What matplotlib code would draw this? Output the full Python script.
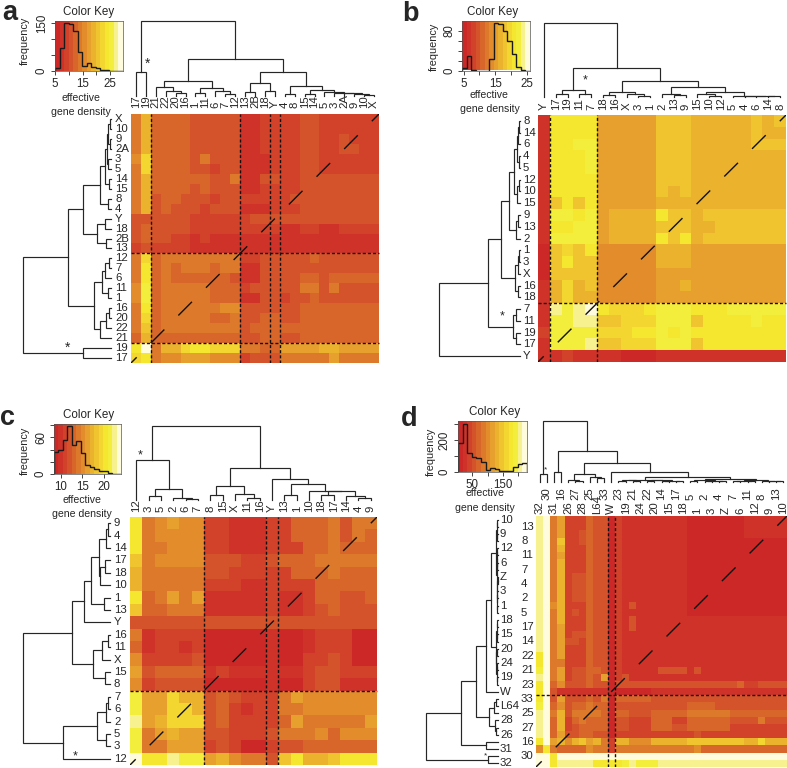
import numpy as np
import matplotlib
matplotlib.use("Agg")
import matplotlib.pyplot as plt
from matplotlib.colors import ListedColormap

plt.rcParams['font.family'] = ['Liberation Sans', 'DejaVu Sans']
plt.rcParams['lines.scale_dashes'] = False
W, H = 787, 768
INK = '#262626'

KEY_COLORS = ['#CC2827', '#CF3228', '#D2412A', '#D5532A', '#D8662A', '#DD792B', '#E28C2C', '#E79F2D',
              '#EBB22E', '#EFC42F', '#F3D62F', '#F5E62F', '#F3EE3C', '#F8F190', '#FFFBDD']
CMAP = ListedColormap(KEY_COLORS)

# ---------- panel a ----------
a_cols = ['17','19','21','22','20','16','1','11','6','7','12','13','2B','18','Y','4','8','15','14','5','3','2A','9','10','X']
a_rows = ['X','10','9','2A','3','5','14','15','8','4','Y','18','2B','13','12','7','6','11','1','16','20','22','21','19','17']
a_matrix = [
 "5844443333311222233222222","5844443333311222233222222","5844443333311222233223222","5844443333311222233223322",
 "6a44443533311122233222222","5a44443323311122233222222","5844444433511332233333333","5844443433311222233333333",
 "5834433323322222333333333","5834333233311122233333333","3333332222223333333333333","3433332222222221122112222",
 "3433221211111111111111111","2322221111111111111111111","5a45555555522333334333333","5b45455545511333333333333",
 "5b45444444311333344344444","6c45555544423333355353333","6c45555544411332334333333","5b45555556633333344444444",
 "5a45555544533443344444444","5945555555534444444444444","4844444444433443344444444","be588abbaaa55447777887777",
 "ab56677766623335555575555"]
a_hist = [8,72,152,147,125,60,17,24,12,10,3,4,0,0,0]
a_col_tree = (75,(24,'17','19'),(37,(15,(9,'21',(5,'22',(3,'20','16'))),(8,(3,'1','11'),(5,'6',(2,'7','12')))),
              (24,(13,(4,'13','2B'),(5,'18','Y')),(10,(2,'4','8'),(6,(2,'15','14'),(4.5,'5',(3.5,'3',(3,'2A',(2,'9',(1.5,'10','X'))))))))))
a_row_tree = (87.7,(42.7,(27.7,(11,(5.7,(3.7,(2.7,(0.7,'X','10'),(1.5,'9','2A')),(2.7,'3','5')),(1.7,'14','15')),(3.3,'8','4')),
              (14.3,(5.7,'Y','18'),(5,'2B','13'))),(16.7,(8.7,(5.7,(1.7,'12','7'),'6'),(3.3,'11','1')),(11,(5,(1.7,'16','20'),'22'),'21'))),(27.7,'19','17'))

# ---------- panel b ----------
b_cols = ['Y','17','19','11','7','18','16','X','3','1','2','13','9','15','10','12','5','4','6','14','8']
b_rows = ['8','14','6','4','5','12','10','15','9','13','2','1','3','X','16','18','7','11','19','17','Y']
b_matrix = [
 "1bbbb7777799988888989","1bbbb7777799988888988","1bbcc7777799988888999","1bbbc7777799988888888",
 "1bbbc7777799988888888","1bbbb7777799988888888","1bbbb7777798988888888","19b9b7777788888888888",
 "1ccbc78888b9989999999","1bbcc7888899988999999","1cccc78888b9b89999999","09a9b6666688877777777",
 "09b996666688877777777","099996666677777777777","18a896666677877777777","18a886666677777777777",
 "1dcdebaaabcccbbbccccc","1ccdd99aaaccc9bbbbcbb","2ccccaaabbcbcbbbbbbbb","1cccd99aaaccc9bbbbbbb",
 "112111100011111111111"]
b_hist = [5,30,1,0,0,0,24,95,93,80,60,34,8,2,0]
b_col_tree = (74,'Y',(29,(6.3,(2.3,'17','19'),(3,'11','7')),(16,(5,(1.3,'18','16'),(2.3,'X',(0.7,'3','1'))),
              (9.3,(3,'2',(1.3,'13','9')),(5,(2.3,'15',(1,'10','12')),(0.9,'5',(0.7,'4',(0.5,'6',(0.3,'14','8')))))))))
b_row_tree = (81,(31.7,(19,(10.7,(6,(2.7,(1.7,(0.7,'8','14'),'6'),(0.7,'4','5')),(3.3,(1,'12','10'),'15')),(4.3,(1.7,'9','13'),'2')),
              (5,(2.3,(0.7,'1','3'),'X'),(2.3,'16','18'))),(7.3,(4.3,'7','11'),(4.3,'19','17'))),'Y')

# ---------- panel c ----------
c_cols = ['12','3','5','2','6','7','8','15','X','11','16','Y','13','1','10','18','17','14','4','9']
c_rows = ['9','4','14','17','18','10','1','13','Y','16','11','X','15','8','7','6','2','5','3','12']
c_matrix = [
 "b5676622111224445355","b5666622111224445354","b5566622111222445444","95666633322344455555",
 "85555533222224445444","85555522211222244444","b4575711111211244334","94455511111211234333",
 "33333333333333333333","51222200000100122200","41221200000100122200","62222300000100223200",
 "73444412111111233222","62333300000100233111","c77a8834322257666666","c77aa834212255666666",
 "d78aaa34222247555557","c5787733222355564666","c5577723200233444444","ebbdcc7865539b889bbb"]
c_hist = [36,39,55,78,47,54,34,14,12,9,5,5,2,0.5,0.5]
c_col_tree = (74,(40,'12',(11,(4,'3','5'),(2.5,'2',(1.5,'6','7')))),(32,(14,(5,'8','15'),(6,'X',(2,'11','16'))),
              (21,'Y',(16,(5,'13','1'),(9.3,'10',(8.7,(5,'18','17'),(3.7,'14',(1.7,'4','9'))))))))
c_row_tree = (87,(38,(26,(19,(11,(4,(2,'9','4'),'14'),(10,(5,'17','18'),'10')),(6,'1','13')),'Y'),
              (17,(8,(2,'16','11'),'X'),(5,'15','8'))),(47,(13,(4,(2,'7','6'),'2'),(4,'5','3')),'12'))

# ---------- panel d ----------
d_cols = ['32','30','31','16','26','27','28','25','L64','33','W','23','19','21','24','22','20','14','15','17','18',
          '5','1','2','3','4','Z','7','6','11','12','8','9','13','10']
d_rows = ['10','13','9','8','12','11','6','7','Z','4','3','2','1','5','18','17','15','14','20','22','24','21','19','23',
          'W','33','L64','25','28','27','26','16','31','30','32']
d_matrix = [
 "de572224330"+"211111111100000000111111","de572224330"+"211111111100000000111111",
 "de572234330"+"211111111100000000111111","de592234330"+"211111111100000000000000",
 "de582224330"+"211111111100000000000000","de572224330"+"211111111100000000000000",
 "de582224330"+"211111111100000000000000","de582224330"+"211111111100000000000000",
 "de582334330"+"211111111100000000000000","de582334330"+"211111111100000000000000",
 "de582334330"+"211111111100000000000000","de582334330"+"211111111100000000000000",
 "de682224330"+"213111111100000000000000","de582324330"+"211111111100000000000000",
 "de582224330"+"213111111111111111111111","de572224330"+"213111111111111111111111",
 "de572334330"+"211111111111111111111111","de573324330"+"211111111111111111111111",
 "de572224330"+"211111111111111111111111","be572224330"+"211111111111111111111111",
 "be552224330"+"211111111111111111111111","ce572334430"+"211111333313111111111111",
 "de572334370"+"231111111111111111111111","be463334330"+"333333333333333334223333",
 "be311111110"+"000001111111111111111111","be373334350"+"444443333333333333333333",
 "ce463445440"+"333333333344443333333333","de583555540"+"443334444455555544444444",
 "de482454440"+"332224442244444433335333","de482344440"+"332224443344444422222222",
 "de473344330"+"222222222223222222222222","be786897852"+"88666888889999999988a888",
 "6b544446552"+"555555555556444444444444","eeb"+"eeeeeeeeeeeeeeeeeeeeeeeeeeeeeeee",
 "eebdddddbbbbcdcccdddddddddddddddddd"]
d_hist = [185,300,120,95,90,60,10,27,21,4,4,6,30,48,55]
d_left = (1.8,(1.3,(0.8,'23','19'),(0.8,'21','24')),(1.3,(0.8,'22','20'),(1,(0.6,'14','15'),(0.6,'17','18'))))
d_right = (2.3,(1.5,(0.8,'5','1'),(1,(0.7,'2','3'),(0.5,'4','Z'))),(1.6,(1,(0.6,'7','6'),(0.6,'11','12')),(0.9,'8',(0.6,'9',(0.4,'13','10')))))
d_col_tree = (60.7,(7.3,'32','30'),(31,(10,'31','16'),(19,(7.3,(1.7,'26',(0.8,'27','28')),(4.3,'25',(3.3,'L64','33'))),
              (9.3,'W',(4.7,d_left,d_right)))))
d_row_top = (7,(1.8,(1.2,(0.6,'10','13'),(0.8,'9','8')),(1.4,(1,(0.6,'12','11'),(0.6,'6','7')),(1.2,(0.4,'Z','4'),(0.9,(0.5,'3','2'),(0.5,'1','5'))))),
             (1.9,(1.2,(0.6,'18','17'),(0.7,'15','14')),(1.6,(0.8,'20','22'),(1.2,(0.6,'24','21'),(0.8,'19','23')))))
d_row_tree = (72,(37,(22,(11.7,d_row_top,'W'),(9,(3.5,(2.3,'33','L64'),'25'),(2.5,'28',(1.5,'27','26')))),(12.3,'16','31')),(10,'30','32'))


def box(l, t, r, b):
    return fig.add_axes([l / W, 1 - b / H, (r - l) / W, (b - t) / H])


def txt(x, y, s, **kw):
    kw.setdefault('color', INK)
    fig.text(x / W, 1 - y / H, s, **kw)


def tree_segments(node, counter, out):
    if isinstance(node, str):
        counter.append(node)
        return len(counter) - 0.5, 0
    h, left, right = node
    xl, hl = tree_segments(left, counter, out)
    xr, hr = tree_segments(right, counter, out)
    out.append(([xl, xl, xr, xr], [hl, h, h, hr]))
    return (xl + xr) / 2, h


def heatmap(rect, matrix, rows, cols, vlines, hlines):
    n_r, n_c = len(rows), len(cols)
    for r in matrix:
        assert len(r) == n_c, (r, len(r), n_c)
    assert len(matrix) == n_r
    arr = np.array([[int(ch, 16) for ch in r] for r in matrix])
    ax = box(*rect)
    ax.imshow(arr, cmap=CMAP, vmin=-0.5, vmax=14.5, extent=(0, n_c, n_r, 0), aspect='auto', interpolation='nearest')
    ax.set_xlim(0, n_c)
    ax.set_ylim(n_r, 0)
    ax.axis('off')
    ax.plot([0, n_c], [n_r, 0], color='#111111', lw=1.0, ls=(8.1, (13.9, 14.3)), clip_on=True)
    for v in vlines:
        ax.axvline(v, color='#111111', lw=1.0, ls=(0, (2.2, 1.5)))
    for v in hlines:
        ax.axhline(v, color='#111111', lw=1.0, ls=(0, (2.2, 1.5)), clip_on=False)


def col_dendro(rect, tree, cols):
    ax = box(*rect)
    order, segs = [], []
    tree_segments(tree, order, segs)
    assert order == cols, order
    for xs, hs in segs:
        ax.plot(xs, hs, color=INK, lw=0.85, solid_joinstyle='miter', clip_on=False)
    ax.set_xlim(0, len(cols))
    ax.set_ylim(0, rect[3] - rect[1])
    ax.axis('off')


def row_dendro(rect, tree, rows):
    ax = box(*rect)
    order, segs = [], []
    tree_segments(tree, order, segs)
    assert order == rows, order
    for ys, hs in segs:
        ax.plot(hs, ys, color=INK, lw=0.85, solid_joinstyle='miter', clip_on=False)
    ax.set_ylim(len(rows), 0)
    ax.set_xlim(rect[2] - rect[0], 0)
    ax.axis('off')


def key(rect, xlim, ylim, xticks, xlabels, yticks, ylabels, hist):
    ax = box(*rect)
    ax.imshow(np.arange(15).reshape(1, -1), cmap=CMAP, extent=(xlim[0], xlim[1], ylim[0], ylim[1]),
              aspect='auto', interpolation='nearest')
    edges = np.linspace(xlim[0], xlim[1], len(hist) + 1)
    ax.stairs(hist, edges, color='#1a1a1a', lw=1.0, baseline=0)
    ax.set_xlim(*xlim)
    ax.set_ylim(*ylim)
    ax.set_xticks(xticks)
    ax.set_xticklabels(xlabels, fontsize=8.3, color=INK)
    ax.set_yticks(yticks)
    ax.set_yticklabels(ylabels, fontsize=8.3, rotation=90, va='center', color=INK)
    ax.tick_params(length=2.6, width=0.6, pad=2.5, color=INK)
    for s in ax.spines.values():
        s.set_linewidth(0.5)
        s.set_color('#555555')


def panel(letter, lpos, hrect, matrix, rows, cols, vl, hl, col_tree, row_tree, col_rect, row_rect,
          col_lab_y, row_lab_x, keyspec, texts, stars):
    heatmap(hrect, matrix, rows, cols, vl, hl)
    col_dendro(col_rect, col_tree, cols)
    row_dendro(row_rect, row_tree, rows)
    key(*keyspec)
    cw = (hrect[2] - hrect[0]) / len(cols)
    ch = (hrect[3] - hrect[1]) / len(rows)
    ys = col_lab_y if isinstance(col_lab_y, tuple) else (col_lab_y, col_lab_y)
    xs = row_lab_x if isinstance(row_lab_x, tuple) else (row_lab_x, row_lab_x)
    for i, c in enumerate(cols):
        y = ys[1] if i % 2 == 0 else ys[0]
        txt(hrect[0] + (i + 0.5) * cw, y, c, rotation=90, ha='center', va='bottom', fontsize=8.2)
    for j, r in enumerate(rows):
        x = xs[0] if j % 2 == 0 else xs[1]
        txt(x, hrect[1] + (j + 0.5) * ch, r, ha='left', va='center', fontsize=8.2)
    txt(lpos[0], lpos[1], letter, fontsize=19.5, fontweight='bold', ha='left', va='baseline')
    ck, ef, gd, fr = texts
    txt(ck[0], ck[1], 'Color Key', ha='center', va='center', fontsize=8.4)
    txt(ef[0], ef[1], 'effective', ha='center', va='center', fontsize=7.6)
    txt(gd[0], gd[1], 'gene density', ha='center', va='center', fontsize=7.6)
    txt(fr[0], fr[1], 'frequency', ha='center', va='center', rotation=90, fontsize=7.8)
    for (x, y, fs) in stars:
        txt(x, y, '*', ha='center', va='center', fontsize=fs)


fig = plt.figure(figsize=(W / 100, H / 100), dpi=100, facecolor='white')

panel('a', (2, 20.5), (131, 114, 379, 363), a_matrix, a_rows, a_cols, [2, 11, 14, 15], [14, 23],
      a_col_tree, a_row_tree, (131, 16, 379, 96), (20, 114, 111, 363), 108.5, 115,
      ((55, 21, 123, 71), (5, 29.7), (0, 157), [5, 10, 15, 20, 25], ['5', '', '15', '', '25'], [0, 50, 100, 150], ['0', '', '', '150'], a_hist),
      ((89, 12), (81, 98), (81, 112), (25, 41)), [(148, 64, 10), (68, 348, 10)])

panel('b', (402, 21), (538, 115, 786, 362), b_matrix, b_rows, b_cols, [1, 5], [16],
      b_col_tree, b_row_tree, (538, 16, 786, 96.5), (436, 115, 520, 362), 110, 523,
      ((462.3, 21, 530, 70.5), (4.6, 26), (0, 100), [5, 10, 15, 20, 25], ['5', '', '15', '', '25'], [0, 20, 40, 60, 80], ['0', '', '', '', '80'], b_hist),
      ((493, 12), (489, 95), (490, 109), (434, 47)), [(585, 80, 9), (502, 316, 9)])

panel('c', (0, 425), (130, 517, 377, 765), c_matrix, c_rows, c_cols, [6, 11, 12], [14],
      c_col_tree, c_row_tree, (130, 421, 377, 500), (20, 517, 109.5, 765), 512, 114,
      ((54, 424, 121, 474), (8.4, 24), (0, 82), [10, 15, 20], ['10', '15', '20'], [0, 20, 40, 60, 80], ['0', '', '', '60', ''], c_hist),
      ((89, 415), (82, 500), (82, 514), (25, 451)), [(140, 455, 9), (75, 756, 9)])

panel('d', (401, 425.5), (536, 516, 787, 767), d_matrix, d_rows, d_cols, [10, 11], [25],
      d_col_tree, d_row_tree, (536, 415, 787, 481.5), (424, 516, 498, 767), (499.5, 514), (500, 521),
      ((458, 421, 527, 472), (3, 228), (0, 320), [50, 100, 150, 200], ['50', '', '150', ''], [0, 100, 200, 300], ['0', '', '200', ''], d_hist),
      ((495, 412), (485, 493), (485, 508), (431, 452)), [(546, 470, 6), (486, 756, 6)])

fig.savefig('out.png', dpi=100)
